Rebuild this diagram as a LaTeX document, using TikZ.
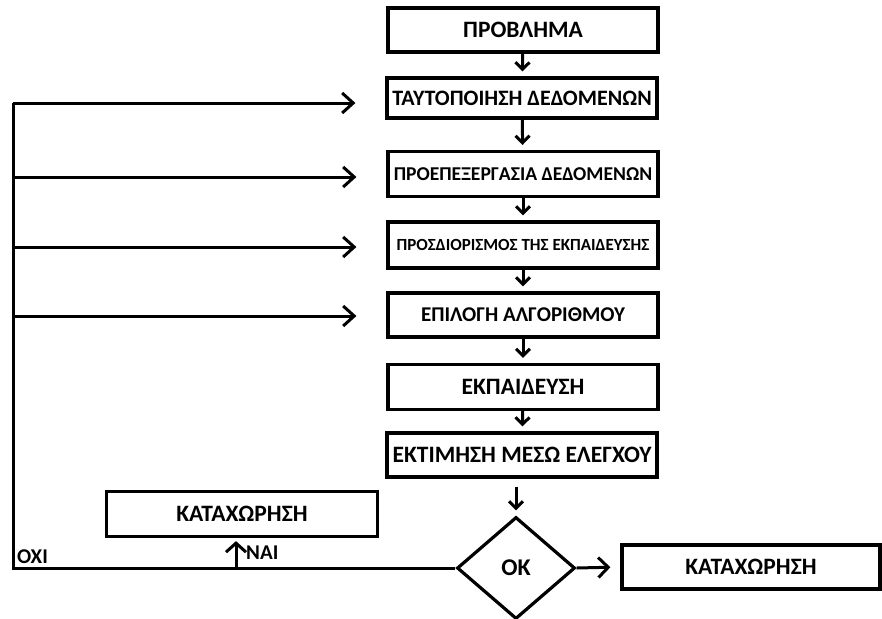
\documentclass[tikz,border=0pt]{standalone}
\usepackage{fontspec}
\setmainfont{Carlito}
\usetikzlibrary{arrows.meta,shapes.geometric}
\newcommand{\fsz}[1]{\fontsize{#1}{#1}\selectfont\bfseries}
\begin{document}
\begin{tikzpicture}[x=1pt,y=-1pt,
box/.style={draw,line width=3.2pt,minimum width=270pt,minimum height=44pt,inner sep=0pt},
nextarr/.style={-{Straight Barb[length=7pt,width=14pt]},line width=3pt,shorten >=5pt},
backarr/.style={-{Straight Barb[length=11pt,width=20pt]},line width=3pt,shorten >=30pt}]
\useasboundingbox (0,0) rectangle (882,618);
\node[box,font=\fsz{23.5}] (prob) at (523,30) {ΠΡΟΒΛΗΜΑ};
\node[box,minimum height=40pt,font=\fsz{22}] (taut) at (522,98) {ΤΑΥΤΟΠΟΙΗΣΗ ΔΕΔΟΜΕΝΩΝ};
\node[box,minimum height=45pt,font=\fsz{19.6}] (proep) at (523,174) {ΠΡΟΕΠΕΞΕΡΓΑΣΙΑ ΔΕΔΟΜΕΝΩΝ};
\node[box,minimum height=46pt,font=\fsz{17}] (prosd) at (523,245) {ΠΡΟΣΔΙΟΡΙΣΜΟΣ ΤΗΣ ΕΚΠΑΙΔΕΥΣΗΣ};
\node[box,font=\fsz{21}] (epil) at (523,315) {ΕΠΙΛΟΓΗ ΑΛΓΟΡΙΘΜΟΥ};
\node[box,minimum height=45pt,font=\fsz{23.5}] (ekp) at (523,387) {ΕΚΠΑΙΔΕΥΣΗ};
\node[box,font=\fsz{23.5}] (ekt) at (522,455) {ΕΚΤΙΜΗΣΗ ΜΕΣΩ ΕΛΕΓΧΟΥ};
\node[draw,diamond,line width=3.2pt,aspect=1.16,minimum width=118pt,minimum height=102pt,inner sep=0pt,font=\fsz{24}] (ok) at (516,568) {OK};
\node[box,minimum width=258pt,font=\fsz{23.5}] (katr) at (751,567) {ΚΑΤΑΧΩΡΗΣΗ};
\node[box,minimum width=271pt,minimum height=45pt,font=\fsz{23.5}] (katl) at (242,514) {ΚΑΤΑΧΩΡΗΣΗ};
\draw[nextarr] (prob) -- (taut);
\draw[nextarr] (taut) -- (proep);
\draw[nextarr] (proep) -- (prosd);
\draw[nextarr] (prosd) -- (epil);
\draw[nextarr] (epil) -- (ekp);
\draw[nextarr] (ekp) -- (ekt);
\draw[nextarr,shorten <=8pt] (ekt.south -| ok) -- (ok);
\draw[nextarr,shorten >=10pt,-{Straight Barb[length=10pt,width=20pt]}] (ok.east) -- (katr.west);
\coordinate (oxi) at (13,568);
\coordinate (f1) at (13,103);
\coordinate (f2) at (13,177);
\coordinate (f3) at (13,247);
\coordinate (f4) at (13,316);
\coordinate (yes) at (236,568);
\draw[line width=3pt] (ok.west) -- (oxi) -- (f1);
\draw[backarr] (f1) -- (f1 -| taut.west);
\draw[backarr] (f2) -- (f2 -| proep.west);
\draw[backarr] (f3) -- (f3 -| prosd.west);
\draw[backarr] (f4) -- (f4 -| epil.west);
\draw[backarr,shorten >=3pt,-{Straight Barb[length=9pt,width=20pt]}] (yes) -- (yes |- katl.south);
\node[font=\fsz{21},anchor=south west,inner sep=1pt] (no) at (16,565) {ΟΧΙ};
\node[font=\fsz{21},anchor=west,inner sep=1pt] (nai) at (245,553) {ΝΑΙ};
\end{tikzpicture}
\end{document}
